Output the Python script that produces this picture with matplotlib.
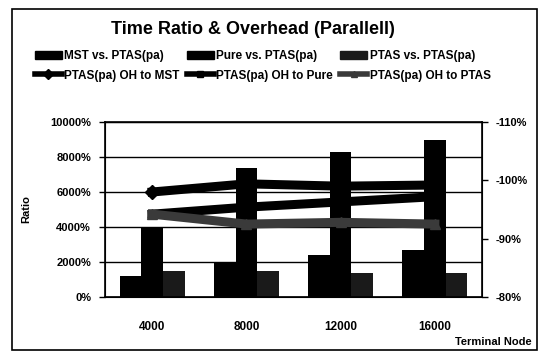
import matplotlib
matplotlib.use("Agg")
import matplotlib.pyplot as plt
import numpy as np
from matplotlib.lines import Line2D
from matplotlib.patches import Patch, Rectangle

plt.rcParams['font.family'] = ['Liberation Sans', 'DejaVu Sans']
plt.rcParams['font.weight'] = 'bold'

nodes = ['4000', '8000', '12000', '16000']
# bar series, ratio in percent
mst_ratio = [1200, 2000, 2400, 2700]
pure_ratio = [4000, 7400, 8300, 9000]
ptas_ratio = [1500, 1500, 1350, 1350]
# overhead lines, percent (right axis)
oh_mst = [-98.0, -99.4, -99.0, -99.2]
oh_pure = [-94.2, -95.4, -96.3, -97.2]
oh_ptas = [-94.2, -92.5, -92.8, -92.5]

fig = plt.figure(figsize=(5.44, 3.52), dpi=100)
fig.patches.append(Rectangle((12/544, 0.005), 525/544, 0.97, transform=fig.transFigure,
                             fill=False, edgecolor='black', linewidth=1.2))

ax = fig.add_axes([105/544, 55/352, 377/544, 175/352])
x = np.arange(len(nodes))
w = 0.23
ax.bar(x - w, mst_ratio, w, color='black', zorder=2)
ax.bar(x, pure_ratio, w, color='black', zorder=2)
ax.bar(x + w, ptas_ratio, w, color='#1a1a1a', zorder=2)

ax.set_ylim(0, 10000)
ax.set_yticks(range(0, 10001, 2000))
ax.set_yticklabels([f'{v}%' for v in range(0, 10001, 2000)], fontsize=8, fontweight='bold')
ax.set_xlim(-0.5, 3.5)
ax.set_xticks(x)
ax.set_xticklabels(nodes, fontsize=8.5, fontweight='bold')
ax.tick_params(axis='x', length=0, pad=17)
ax.tick_params(axis='y', length=4, width=1, pad=6)
ax.grid(axis='y', color='black', linewidth=1.0, zorder=1)
ax.set_axisbelow(True)
for s in ax.spines.values():
    s.set_linewidth(1.2)
ax.set_ylabel('Ratio', fontsize=8, fontweight='bold', labelpad=14)

ax2 = ax.twinx()
ax2.plot(x, oh_mst, color='black', linewidth=6.5, marker='D', markersize=7, zorder=3)
ax2.plot(x, oh_pure, color='black', linewidth=6.5, marker='s', markersize=6, zorder=3)
ax2.plot(x, oh_ptas, color='#3a3a3a', linewidth=6.5, marker='^', markersize=7, zorder=3)
ax2.set_ylim(-80, -110)
ax2.set_yticks([-80, -90, -100, -110])
ax2.set_yticklabels(['-80%', '-90%', '-100%', '-110%'], fontsize=8, fontweight='bold')
ax2.tick_params(axis='y', length=4, width=1, pad=6)

fig.text(253/544, 1 - 30/352, 'Time Ratio & Overhead (Parallell)', ha='center', va='center',
         fontsize=13, fontweight='bold')
fig.text(532/544, 1 - 342/352, 'Terminal Node', ha='right', va='center', fontsize=8, fontweight='bold')

handles = [
    Patch(color='black', label='MST vs. PTAS(pa)'),
    Line2D([], [], color='black', linewidth=4, marker='D', markersize=5, label='PTAS(pa) OH to MST'),
    Patch(color='black', label='Pure vs. PTAS(pa)'),
    Line2D([], [], color='black', linewidth=4, marker='s', markersize=5, label='PTAS(pa) OH to Pure'),
    Patch(color='#1a1a1a', label='PTAS vs. PTAS(pa)'),
    Line2D([], [], color='#3a3a3a', linewidth=4, marker='^', markersize=5, label='PTAS(pa) OH to PTAS'),
]
fig.legend(handles=handles, ncol=3, loc='center left', bbox_to_anchor=(29/544, 1 - 66/352),
           frameon=False, fontsize=8.5, handlelength=2.3, handletextpad=0.2,
           columnspacing=0.6, labelspacing=0.6, borderpad=0)

fig.savefig('out.png', dpi=100)
